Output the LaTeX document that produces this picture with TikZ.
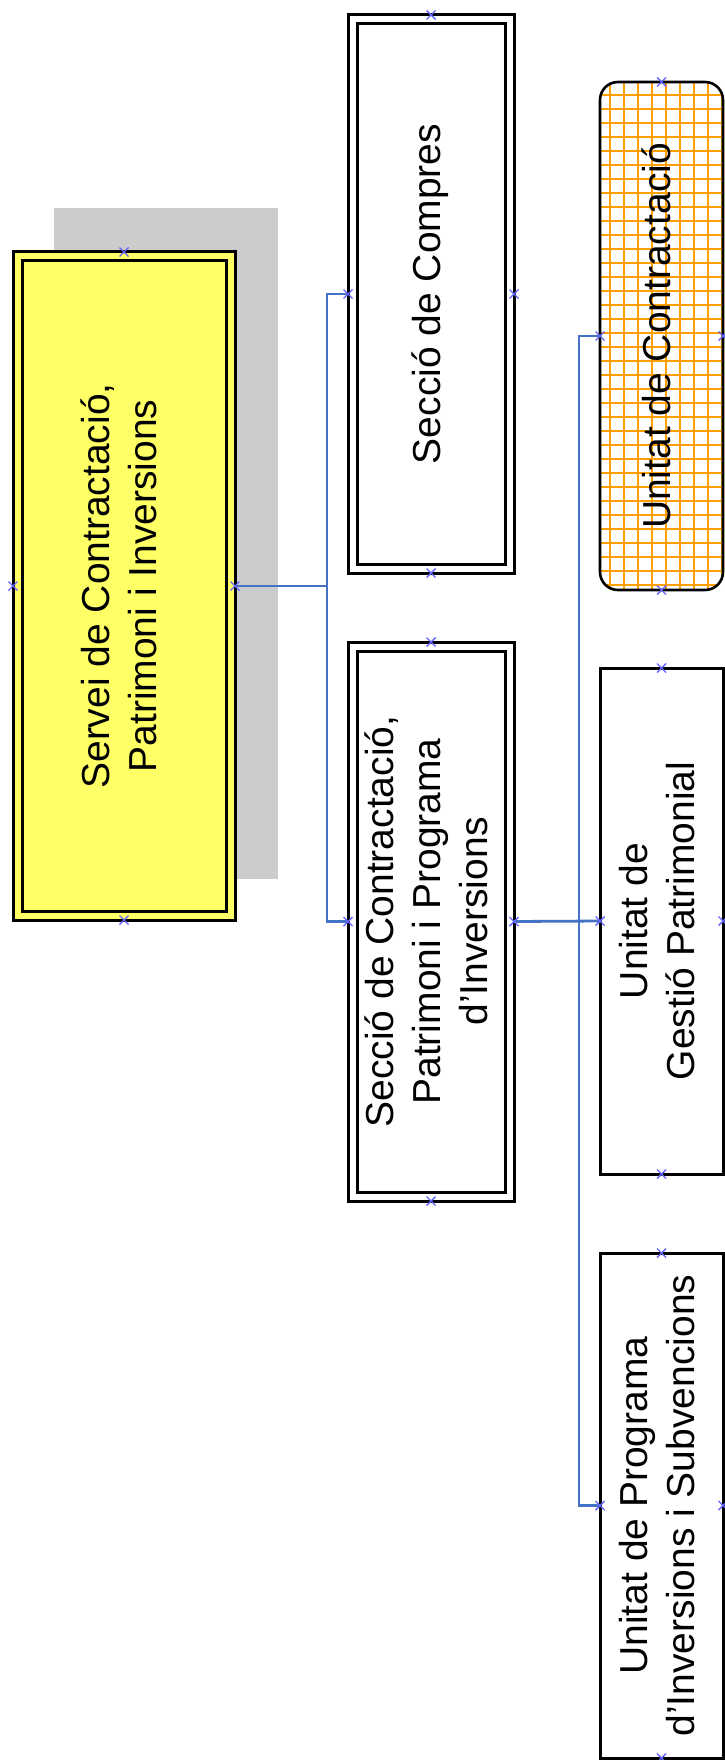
\documentclass[tikz,border=0pt]{standalone}
\usepackage{fontspec}
\setmainfont{Liberation Sans}
\usetikzlibrary{calc}
\definecolor{connc}{RGB}{68,114,196}
\definecolor{mkc}{RGB}{100,100,255}
\definecolor{yel}{RGB}{255,255,102}
\definecolor{shad}{RGB}{204,204,204}
\definecolor{grd}{RGB}{255,160,0}
\begin{document}
\begin{tikzpicture}[x=1pt,y=-1pt,
  box/.style={rectangle, inner sep=0pt, font=\fontsize{39}{47}\selectfont, text=black},
  dbox/.style={box, draw=black, line width=3pt, double=white, fill=white, double distance=6pt, outer sep=4.5pt},
  sbox/.style={box, draw=black, line width=3pt, fill=white, outer sep=0pt},
  gbox/.style={box, draw=black, line width=2.6pt, rounded corners=18pt, fill=white, outer sep=0pt,
    path picture={\draw[grd, line width=1.5pt] (path picture bounding box.south west) grid[step=14pt] (path picture bounding box.north east);}},
  connline/.style={draw=connc, line width=2.8pt},
  mk/.style={draw=mkc, line width=1.4pt}]
\useasboundingbox (0,0) rectangle (724,1760);
% shadow
\fill[shad] (54,208) rectangle (278,879);
% boxes
\node[dbox, fill=yel, double=yel, minimum width=213pt, minimum height=659pt] (serv) at (124,586)
  {\rotatebox{90}{\begin{tabular}{@{}c@{}}Servei de Contractació,\\Patrimoni i Inversions\end{tabular}}};
\node[dbox, minimum width=157pt, minimum height=549pt] (comp) at (431,294)
  {\rotatebox{90}{\begin{tabular}{@{}c@{}}Secció de Compres\end{tabular}}};
\node[dbox, minimum width=157pt, minimum height=550pt] (secc) at (431,921.5)
  {\rotatebox{90}{\begin{tabular}{@{}c@{}}Secció de Contractació,\\Patrimoni i Programa\\d’Inversions\end{tabular}}};
\node[gbox, minimum width=123pt, minimum height=508pt] (uc) at (661.5,336)
  {\rotatebox{90}{\begin{tabular}{@{}c@{}}Unitat de Contractació\end{tabular}}};
\node[sbox, minimum width=123pt, minimum height=506pt] (ug) at (661.5,921)
  {\rotatebox{90}{\begin{tabular}{@{}c@{}}Unitat de\\Gestió Patrimonial\end{tabular}}};
\node[sbox, minimum width=123pt, minimum height=505pt] (up) at (661.5,1505.5)
  {\rotatebox{90}{\begin{tabular}{@{}c@{}}Unitat de Programa\\d’Inversions i Subvencions\end{tabular}}};
% connectors
\coordinate (tr1) at (327,586);
\coordinate (tr2) at (579,921);
\draw[connline] (serv.east) -- (tr1);
\draw[connline] (comp.west) -| (tr1) |- (secc.west);
\draw[connline] (secc.east) -- (ug.west);
\draw[connline] (uc.west) -| (tr2) |- (up.west);
% connection point markers
\foreach \n in {serv,comp,secc,uc,ug,up}{
  \foreach \a in {north,south,east,west}{
    \draw[mk] (\n.\a) +(-4.5,-4.5) -- +(4.5,4.5) +(-4.5,4.5) -- +(4.5,-4.5);
  }
}
\end{tikzpicture}
\end{document}
